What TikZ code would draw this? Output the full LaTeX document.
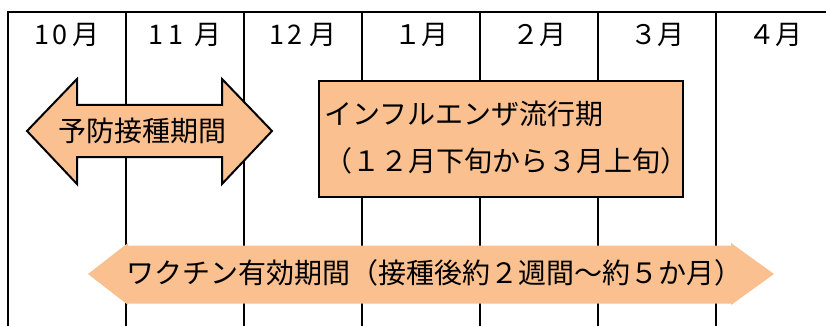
\documentclass[tikz,border=0pt]{standalone}
\usepackage{fontspec}
\newfontfamily\jp{Noto Sans CJK JP}
\definecolor{peach}{RGB}{250,192,143}
\begin{document}
\begin{tikzpicture}[x=1pt,y=-1pt,
  grid/.style={line width=2pt, black},
  mlabel/.style={font=\jp\fontsize{27pt}{30pt}\selectfont, inner sep=0pt, anchor=center},
  btext/.style={font=\jp\fontsize{28pt}{32pt}\selectfont, inner sep=0pt, anchor=west},
  shapebox/.style={fill=peach, draw=black, line width=2pt, line join=miter},
  shapefill/.style={fill=peach, draw=none}]
\useasboundingbox (0,0) rectangle (826,326);
% grid
\draw[grid] (8,326) -- (8,12) -- (826,12);
\foreach \x in {126,244,362,480,598,716} \draw[grid] (\x,12) -- (\x,326);
% month labels
\node[mlabel] (m10) at (67,35) {1\kern4pt 0\kern5pt 月};
\node[mlabel] (m11) at (185,35) {1\kern5pt 1\kern11pt 月};
\node[mlabel] (m12) at (303,35) {1\kern3pt 2\kern8pt 月};
\node[mlabel] (m1) at (421,35) {１月};
\node[mlabel] (m2) at (539,35) {２月};
\node[mlabel] (m3) at (657,35) {３月};
\node[mlabel] (m4) at (775,35) {４月};
% prevention double arrow
\draw[shapebox] (27,131) -- (77,79) -- (77,105) -- (222,105) -- (222,79) -- (272,131)
  -- (222,184) -- (222,157) -- (77,157) -- (77,184) -- cycle;
\node[btext] (yobo) at (58,131) {予防接種期間};
% influenza box
\draw[shapebox] (319,81) rectangle (683,197);
\node[btext] (flu1) at (324,114) {インフルエンザ流行期};
\node[btext] (flu2) at (324,161) {（１２月下旬から３月上旬）};
% vaccine arrow
\fill[shapefill] (88,274) -- (128,243) -- (128,245.5) -- (731,245.5) -- (731,243) -- (774,274)
  -- (731,305) -- (731,303.5) -- (128,303.5) -- (128,305) -- cycle;
\node[btext] (vac) at (126,273) {ワクチン有効期間（接種後約２週間〜約５か月）};
\end{tikzpicture}
\end{document}
